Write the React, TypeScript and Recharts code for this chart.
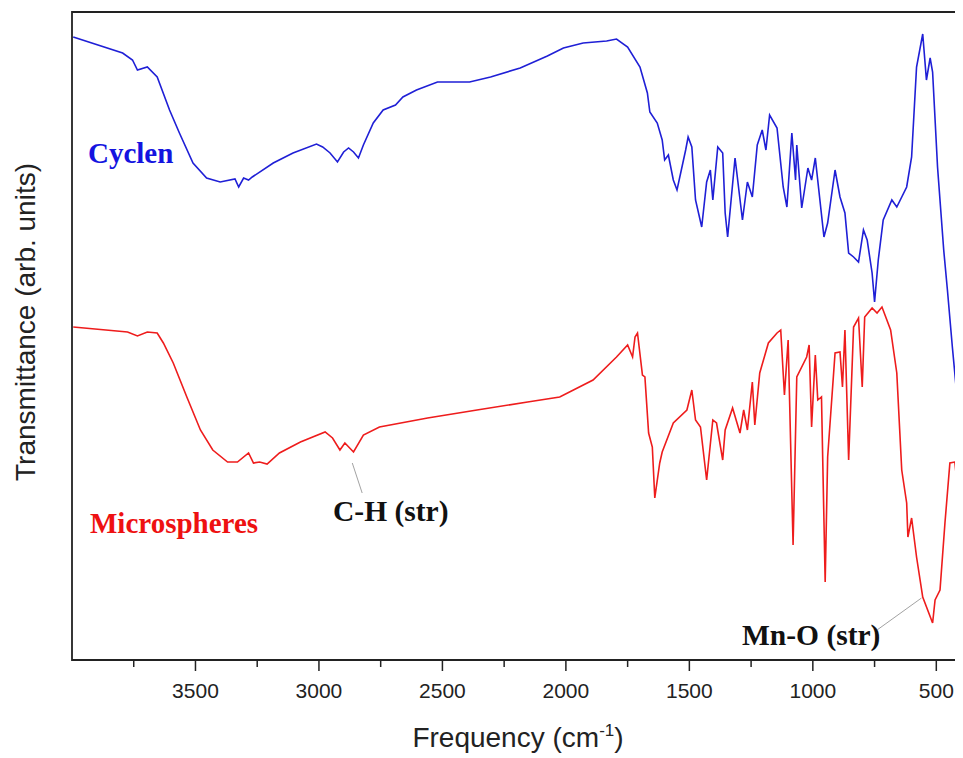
import { LineChart, Line, XAxis, YAxis, ReferenceArea, ReferenceLine } from "recharts";

// wavenumbers (cm-1) and transmittance (arb. units)
const cyclenWn = [
  3995, 3795, 3755, 3735, 3695, 3655, 3605, 3565, 3510, 3455, 3400, 3340, 3325, 3305, 3285, 3270,
  3185, 3105, 3010, 2985, 2955, 2925, 2900, 2880, 2860, 2840, 2820, 2780, 2740, 2690, 2660, 2605,
  2520, 2390, 2305, 2185, 2075, 2010, 1930, 1835, 1795, 1750, 1700, 1670, 1660, 1630, 1610, 1600,
  1585, 1565, 1550, 1515, 1505, 1490, 1475, 1450, 1430, 1415, 1405, 1385, 1365, 1355, 1345, 1315,
  1285, 1265, 1245, 1225, 1205, 1190, 1175, 1145, 1120, 1105, 1085, 1070, 1065, 1045, 1020, 1005,
  990, 955, 940, 910, 890, 870, 855, 835, 815, 795, 780, 760, 750, 735, 715, 680,
  660, 620, 600, 580, 555, 540, 525, 515, 495, 470, 455, 435, 415, 410, 400,
];
const cyclenT = [
  623, 607, 600, 590, 593, 583, 550, 527, 497, 482, 478, 481, 473, 482, 480, 483,
  497, 507, 516, 513, 507, 498, 508, 512, 508, 502, 515, 537, 550, 555, 563, 570,
  578, 578, 583, 592, 604, 612, 617, 619, 621, 613, 593, 567, 548, 537, 520, 500,
  505, 480, 470, 510, 523, 513, 460, 433, 478, 490, 460, 513, 507, 447, 423, 502,
  440, 478, 463, 515, 530, 510, 545, 532, 473, 453, 527, 480, 515, 452, 492, 480,
  502, 423, 437, 490, 463, 447, 407, 403, 398, 430, 420, 387, 358, 400, 440, 460,
  453, 473, 503, 593, 626, 580, 602, 588, 493, 410, 370, 313, 260, 247, 500,
];

const microWn = [
  3995, 3775, 3735, 3695, 3655, 3630, 3590, 3535, 3480, 3430, 3370, 3330, 3285, 3265, 3240, 3210,
  3160, 3075, 2975, 2945, 2915, 2895, 2860, 2820, 2755, 2560, 2360, 2155, 2025, 1890, 1795, 1750,
  1730, 1720, 1710, 1690, 1680, 1665, 1650, 1640, 1620, 1610, 1565, 1510, 1490, 1475, 1455, 1430,
  1405, 1390, 1365, 1355, 1325, 1295, 1280, 1265, 1245, 1235, 1215, 1180, 1145, 1130, 1115, 1100,
  1080, 1065, 1025, 1015, 1005, 990, 980, 965, 950, 940, 910, 890, 880, 870, 855, 835,
  815, 800, 790, 760, 740, 720, 685, 660, 640, 620, 615, 600, 580, 555, 515, 505,
  485, 465, 445, 425, 410, 405, 400,
];
const microT = [
  333, 328, 324, 328, 327, 317, 297, 263, 230, 210, 198, 198, 207, 197, 198, 196,
  207, 218, 228, 222, 210, 217, 208, 225, 233, 242, 250, 258, 263, 280, 303, 315,
  303, 323, 327, 285, 283, 227, 213, 162, 197, 208, 237, 250, 270, 240, 233, 180,
  240, 237, 200, 230, 252, 227, 250, 230, 278, 235, 287, 317, 327, 330, 265, 320,
  115, 283, 303, 315, 233, 305, 260, 263, 78, 203, 307, 308, 273, 330, 200, 333,
  342, 273, 343, 352, 347, 353, 330, 287, 190, 157, 123, 142, 103, 63, 37, 60,
  70, 137, 197, 198, 163, 213, 260,
];

const freqTicks = [500, 750, 1000, 1250, 1500, 1750, 2000, 2250, 2500, 2750, 3000, 3250, 3500, 3750];

const cyclenData = cyclenWn.map((wn, i) => ({ wn, t: cyclenT[i] }));
const microData = microWn.map((wn, i) => ({ wn, t: microT[i] }));

const sans = "'Liberation Sans', Arial, sans-serif";
const serif = "'Liberation Serif', 'Times New Roman', serif";

function FreqTick(props: any) {
  const { x, y, payload } = props;
  const major = payload.value % 500 === 0;
  return (
    <g>
      <line x1={x} x2={x} y1={y} y2={y + (major ? 11 : 7)} stroke="#222" strokeWidth={1.5} />
      {major && (
        <text x={x} y={y + 38} textAnchor="middle" fontSize={21} fill="#222" fontFamily={sans}>
          {payload.value}
        </text>
      )}
    </g>
  );
}

export default function App() {
  return (
    <LineChart width={955} height={750} margin={{ top: 4, right: 2, left: 64, bottom: 58 }}>
      <XAxis
        dataKey="wn"
        type="number"
        domain={[400, 4000]}
        reversed
        allowDataOverflow
        ticks={freqTicks}
        interval={0}
        tick={(p: any) => <FreqTick {...p} />}
        tickLine={false}
        axisLine={false}
        tickSize={0}
        tickMargin={0}
        height={40}
      />
      <YAxis hide type="number" domain={[0, 648]} allowDataOverflow />
      <ReferenceArea x1={400} x2={4000} y1={0} y2={648} fillOpacity={0} stroke="#222" strokeWidth={1.8} ifOverflow="visible" />
      <Line data={cyclenData} dataKey="t" type="linear" stroke="#1f1fd6" strokeWidth={1.6} dot={false} isAnimationActive={false} />
      <Line data={microData} dataKey="t" type="linear" stroke="#ee1c1c" strokeWidth={1.6} dot={false} isAnimationActive={false} />
      <ReferenceLine segment={[{ x: 2865, y: 197 }, { x: 2825, y: 167 }]} stroke="#8a8a8a" strokeWidth={0.8} />
      <ReferenceLine segment={[{ x: 740, y: 30 }, { x: 560, y: 62 }]} stroke="#8a8a8a" strokeWidth={0.8} />
      <text x={80} y={155} fontSize={29} fontWeight="bold" fontFamily={serif} fill="#1414e0">Cyclen</text>
      <text x={82} y={525} fontSize={29} fontWeight="bold" fontFamily={serif} fill="#ee1111">Microspheres</text>
      <text x={325} y={513} fontSize={29.5} fontWeight="bold" fontFamily={serif} fill="#111">C-H (str)</text>
      <text x={734} y={637} fontSize={29.5} fontWeight="bold" fontFamily={serif} fill="#111">Mn-O (str)</text>
      <text transform="rotate(-90)" x={-314} y={17} textAnchor="middle" dominantBaseline="central" fontSize={28} fill="#222" fontFamily={sans}>
        Transmittance (arb. units)
      </text>
      <text x={510} y={739} textAnchor="middle" fontSize={28} fill="#222" fontFamily={sans}>
        Frequency (cm<tspan dy={-11} fontSize={17}>-1</tspan><tspan dy={11}>)</tspan>
      </text>
    </LineChart>
  );
}
